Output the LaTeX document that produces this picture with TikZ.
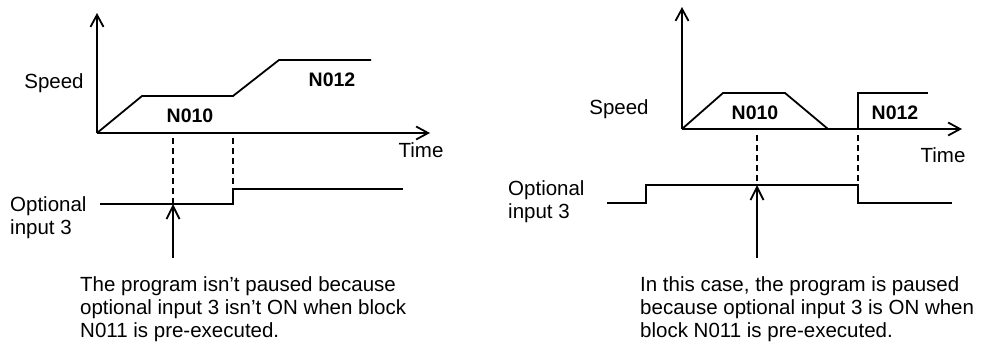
\documentclass[tikz,border=0pt]{standalone}
\usepackage{fontspec}
\setmainfont{Liberation Sans}
\usetikzlibrary{arrows.meta}
\begin{document}
\begin{tikzpicture}[x=1pt,y=-1pt,
  axis/.style={line width=1.8pt,-{Straight Barb[length=12pt,width=13pt,line width=1.8pt]}},
  curve/.style={line width=1.8pt,line join=miter},
  guide/.style={line width=1.4pt,dash pattern=on 6pt off 4pt},
  pointer/.style={line width=1.8pt,-{Straight Barb[length=13pt,width=13pt,line width=1.8pt]}},
  lbl/.style={inner sep=0pt,font=\fontsize{20.5}{23}\selectfont},
  blk/.style={inner sep=0pt,font=\fontsize{19.5}{23}\selectfont\bfseries},
  note/.style={inner sep=0pt,align=left,anchor=north west,font=\fontsize{20.5}{23}\selectfont}]
\useasboundingbox (0,0) rectangle (987,343);
% ---------- left panel ----------
\coordinate (LO) at (97,133);
\coordinate (LY) at (97,13);
\coordinate (LX) at (430,133);
\draw[axis] (LO) -- (LY);
\draw[axis] (LO) -- (LX);
\draw[curve] (LO) -- (142,96) -- (233,96) -- (279,60) -- (371,60);
\node[lbl] (lspeed) at (54,83) {Speed};
\node[blk] (ln010) at (190,116) {N010};
\node[blk] (ln012) at (332,80) {N012};
\node[lbl] (ltime) at (421,150) {Time};
\node[lbl,align=left,anchor=west] (lopt) at (10,218) {Optional\\input 3};
\coordinate (ld1a) at (173,138);
\coordinate (ld1b) at (173,204);
\coordinate (ld2a) at (233,138);
\coordinate (ld2b) at (233,189);
\draw[guide] (ld1a) -- (ld1b);
\draw[guide] (ld2a) -- (ld2b);
\coordinate (ls0) at (100,204);
\coordinate (ls1) at (233,204);
\coordinate (ls2) at (403,189);
\draw[curve] (ls0) -- (ls1) -- (ld2b) -- (ls2);
\coordinate (lp) at (173,258);
\draw[pointer] (lp) -- (ld1b);
\node[note] (lnote) at (80,276) {The program isn’t paused because\\optional input 3 isn’t ON when block\\N011 is pre-executed.};
% ---------- right panel ----------
\coordinate (RO) at (682,129);
\coordinate (RY) at (682,7);
\coordinate (RX) at (962,129);
\draw[axis] (RO) -- (RY);
\draw[axis] (RO) -- (RX);
\draw[curve] (RO) -- (723,93) -- (785,93) -- (828,129);
\draw[curve] (858,129) -- (858,93) -- (928,93);
\node[lbl] (rspeed) at (619,109) {Speed};
\node[blk] (rn010) at (755,113) {N010};
\node[blk] (rn012) at (895,113) {N012};
\node[lbl] (rtime) at (943,155) {Time};
\node[lbl,align=left,anchor=west] (ropt) at (508,202) {Optional\\input 3};
\coordinate (rd1a) at (757,135);
\coordinate (rd1b) at (757,185);
\coordinate (rd2a) at (858,135);
\coordinate (rd2b) at (858,185);
\draw[guide] (rd1a) -- (rd1b);
\draw[guide] (rd2a) -- (rd2b);
\coordinate (rs0) at (607,203);
\coordinate (rs1) at (646,203);
\coordinate (rs2) at (646,185);
\coordinate (rs3) at (858,203);
\coordinate (rs4) at (952,203);
\draw[curve] (rs0) -- (rs1) -- (rs2) -- (rd2b) -- (rs3) -- (rs4);
\coordinate (rp) at (757,258);
\draw[pointer] (rp) -- (rd1b);
\node[note] (rnote) at (640,276) {In this case, the program is paused\\because optional input 3 is ON when\\block N011 is pre-executed.};
\end{tikzpicture}
\end{document}
